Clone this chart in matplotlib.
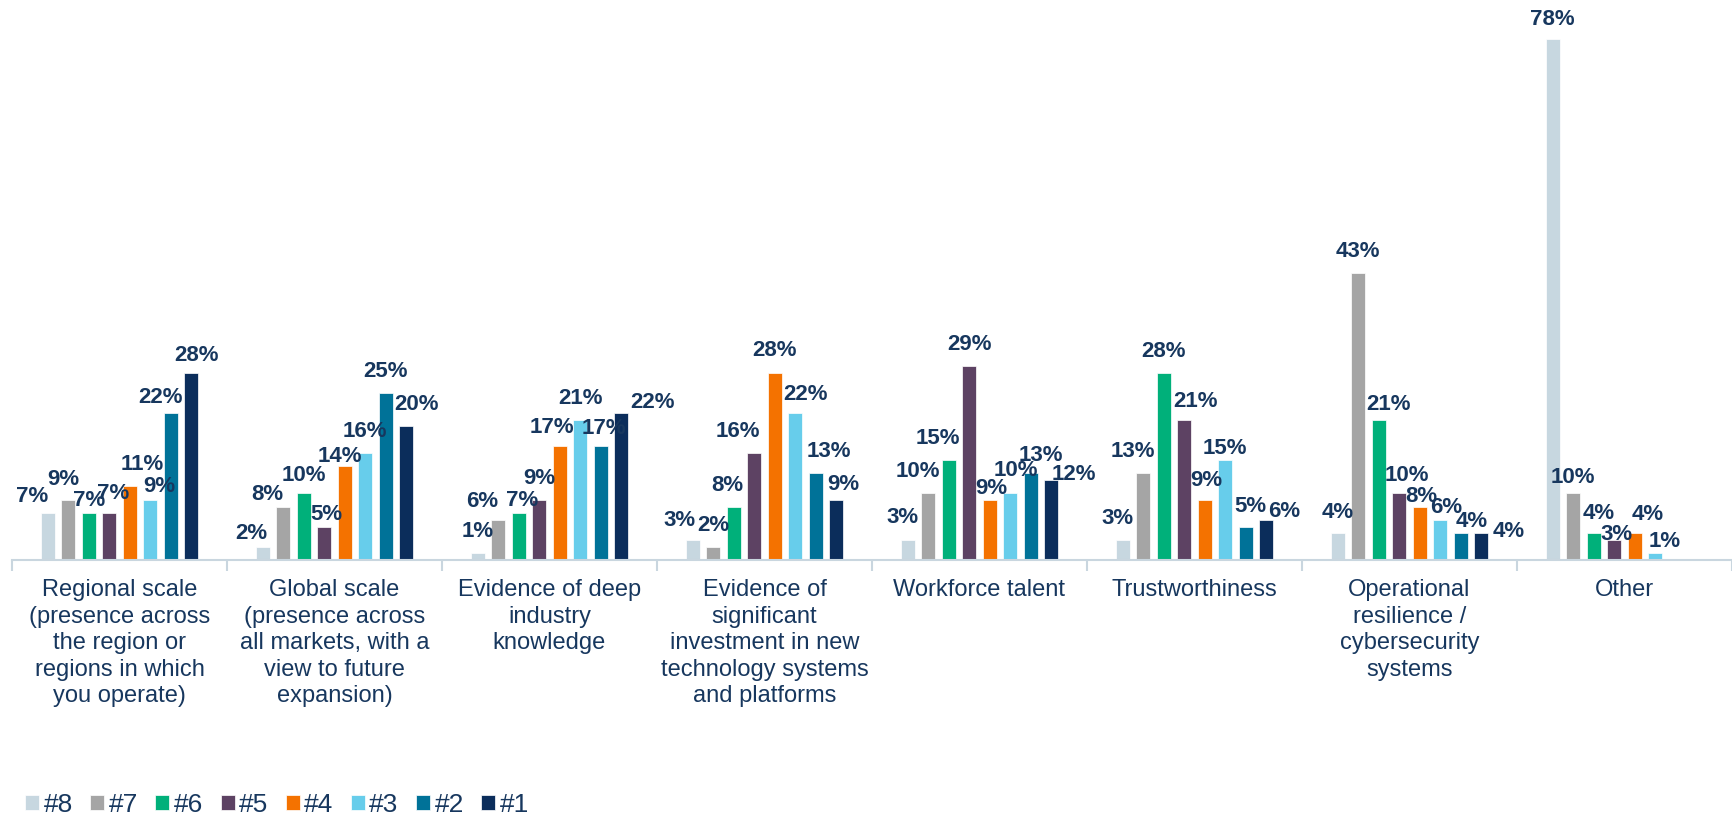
import matplotlib
matplotlib.use('Agg')

import numpy as np
import matplotlib.pyplot as plt

# Categories and the share of respondents ranking each one #8 ... #1
categories = [
    "Regional scale\n(presence across\nthe region or\nregions in which\nyou operate)",
    "Global scale\n(presence across\nall markets, with a\nview to future\nexpansion)",
    "Evidence of deep\nindustry\nknowledge",
    "Evidence of\nsignificant\ninvestment in new\ntechnology systems\nand platforms",
    "Workforce talent",
    "Trustworthiness",
    "Operational\nresilience /\ncybersecurity\nsystems",
    "Other",
]
ranks = ["#8", "#7", "#6", "#5", "#4", "#3", "#2", "#1"]

rank8 = [7, 2, 1, 3, 3, 3, 4, 78]
rank7 = [9, 8, 6, 2, 10, 13, 43, 10]
rank6 = [7, 10, 7, 8, 15, 28, 21, 4]
rank5 = [7, 5, 9, 16, 29, 21, 10, 3]
rank4 = [11, 14, 17, 28, 9, 9, 8, 4]
rank3 = [9, 16, 21, 22, 10, 15, 6, 1]
rank2 = [22, 25, 17, 13, 13, 5, 4, None]
rank1 = [28, 20, 22, 9, 12, 6, 4, None]
series = [rank8, rank7, rank6, rank5, rank4, rank3, rank2, rank1]

colors = ["#C7D7E0", "#A5A5A5", "#00B07A", "#5D4263",
          "#F47200", "#67CDEB", "#007298", "#0B2D5B"]
text_color = "#17375E"
axis_color = "#C9D6DF"

# Hand placement of the value labels (pixels): sideways shift and lift above bar
label_dx = [
    [-16, -11, 0, -13, -5, -5, 0, 0],
    [-5, -16, -16, 0, -10, -10, 0, 0],
    [0, 0, 3, -6, -11, 0, 10, 5],
    [4, 2, 0, -16, 0, 11, 8, 2],
    [13, -5, -8, 0, 2, 2, 2, 13],
    [9, 0, 0, 10, 6, 0, 6, 9],
    [-10, 0, 3, 13, 10, 5, 11, 0],
    [5, 10, 31, 7, 23, 18, 27, 0],
]
label_lift = [
    [11, 8, 16, 14, 17, 16, 15, 14],
    [15, 7, 13, 16, 16, 16, 16, 10],
    [7, 12, 7, 16, 16, 16, 10, 14],
    [14, 7, 16, 16, 16, 13, 12, 0],
    [16, 4, 13, 17, 6, 14, 5, 13],
    [8, 16, 16, 13, 17, 6, 7, 6],
    [10, 16, 12, 16, 12, 15, 6, 0],
    [12, 16, 5, 10, 0, 3, -4, 0],
]

plt.rcParams['font.family'] = ['Liberation Sans', 'DejaVu Sans']

fig = plt.figure(figsize=(17.33, 8.16), dpi=100)
ax = fig.add_axes([12 / 1733, 256 / 816, 1720 / 1733, 560 / 816])

x = np.arange(len(categories))
pitch = 0.0953
width = 0.065

handles = []
for j, (vals, col, name) in enumerate(zip(series, colors, ranks)):
    idx = [i for i, v in enumerate(vals) if v is not None]
    xs = [x[i] + (j - 3.5) * pitch for i in idx]
    vs = [vals[i] for i in idx]
    bars = ax.bar(xs, vs, width=width, color=col, edgecolor='white',
                  linewidth=0.5, label=name)
    handles.append(bars)
    for i, bx, v in zip(idx, xs, vs):
        ax.annotate(f"{v}%", (bx, v),
                    xytext=(label_dx[j][i], label_lift[j][i]),
                    textcoords='offset pixels', ha='center', va='baseline',
                    fontsize=16, fontweight='bold', color=text_color)

ax.set_xlim(-0.5, len(categories) - 0.5)
ax.set_ylim(0, 83.8)

# Category labels sit under the group centres, tick marks at the group edges
ax.set_xticks(x)
ax.set_xticklabels(categories, fontsize=17, color=text_color, linespacing=1.26)
ax.tick_params(axis='x', which='major', length=0, pad=14)
ax.set_xticks(np.arange(len(categories) + 1) - 0.5, minor=True)
ax.tick_params(axis='x', which='minor', length=8, width=1.5, color=axis_color)

ax.set_yticks([])
for side in ['top', 'right', 'left']:
    ax.spines[side].set_visible(False)
ax.spines['bottom'].set_color(axis_color)
ax.spines['bottom'].set_linewidth(1.5)

fig.legend(handles=handles, labels=ranks, loc='center left',
           bbox_to_anchor=(25 / 1733, 1 - 805 / 816), ncol=8, frameon=False,
           fontsize=19, labelcolor=text_color, handlelength=0.53,
           handleheight=0.5, handletextpad=0.17, columnspacing=0.66,
           borderpad=0, borderaxespad=0)

plt.savefig("out.png", dpi=100)
plt.close(fig)
